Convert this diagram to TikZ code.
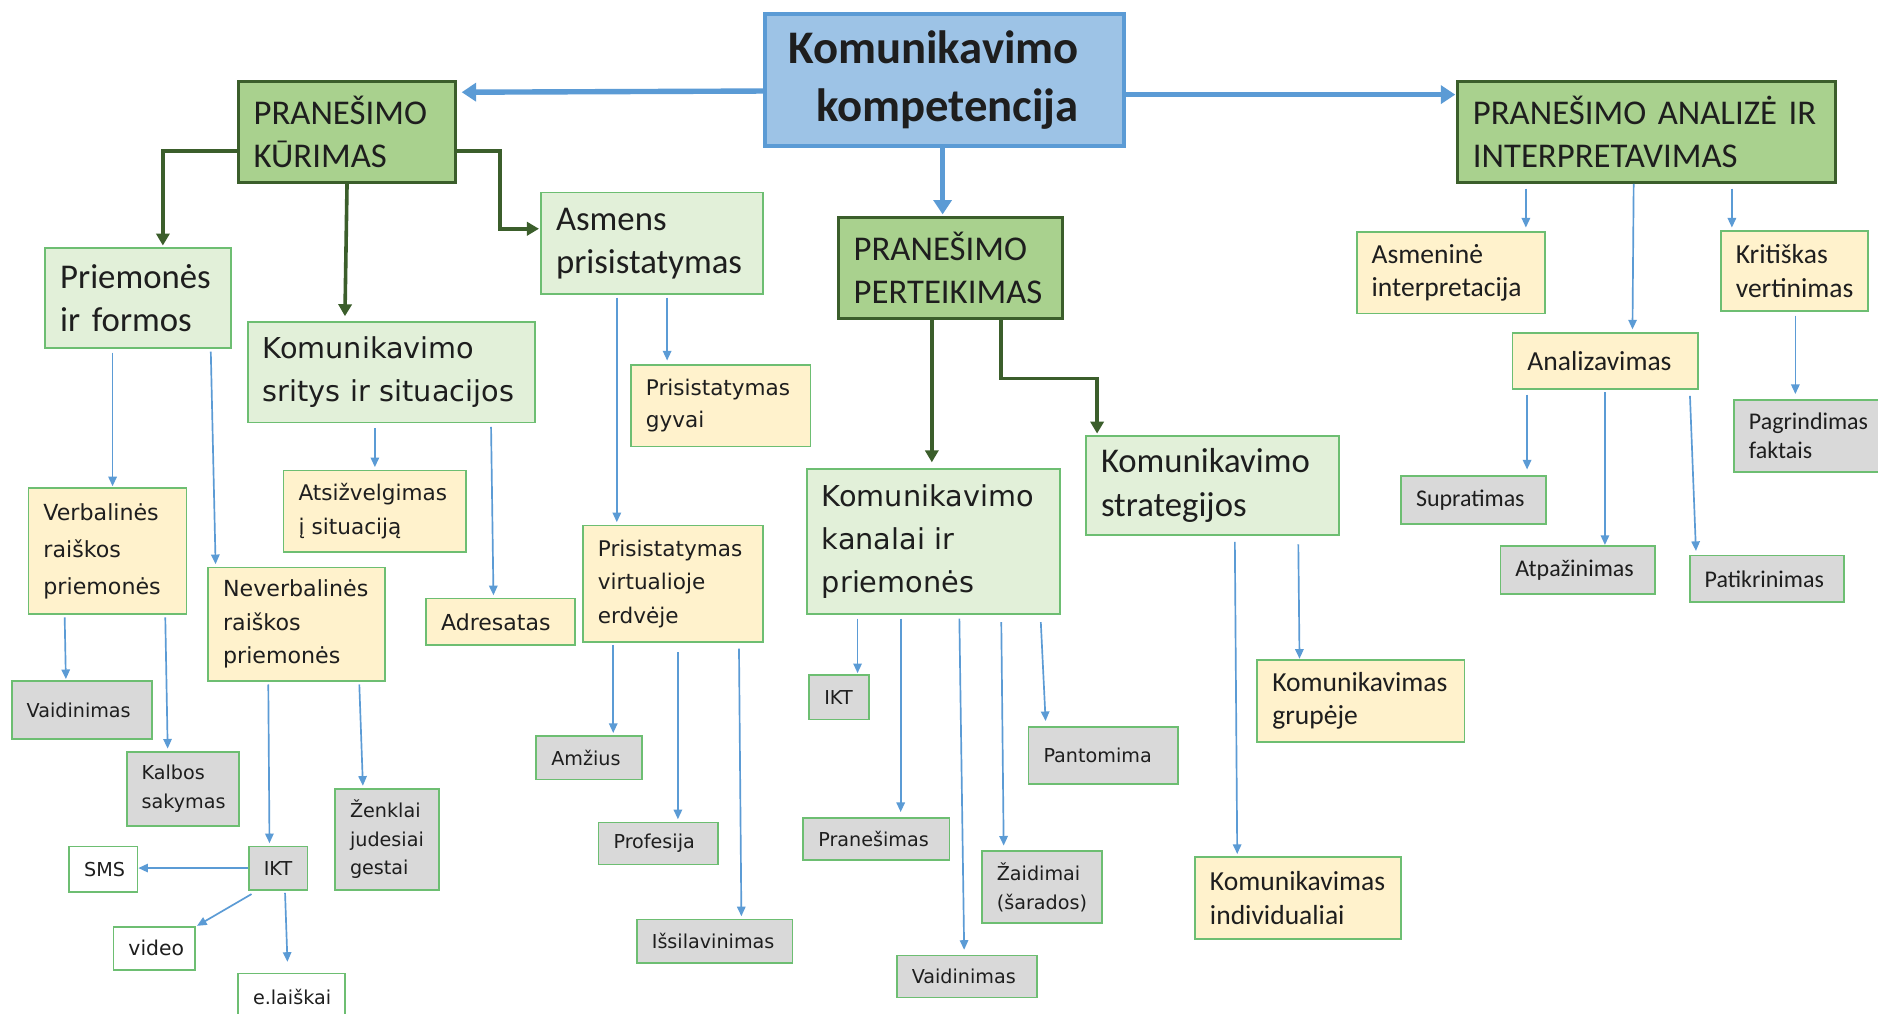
\documentclass[tikz,border=0pt]{standalone}
\usepackage{fontspec}
\setmainfont{Carlito}
\newfontfamily\vfont{DejaVu Sans}
\usetikzlibrary{arrows.meta,calc}
\definecolor{txt}{HTML}{1E1E1E}
\definecolor{dgfill}{HTML}{A9D18E}
\definecolor{dgline}{HTML}{3B5E2B}
\definecolor{cfill}{HTML}{9DC3E6}
\definecolor{cline}{HTML}{5B9BD5}
\definecolor{lgfill}{HTML}{E2F0D9}
\definecolor{yfill}{HTML}{FFF2CC}
\definecolor{gfill}{HTML}{D9D9D9}
\definecolor{bline}{HTML}{6DBE72}
\definecolor{arr}{HTML}{5B9BD5}
\newcommand{\cf}[2]{\fontsize{#1}{#2}\selectfont}
\newcommand{\vf}[2]{\vfont\fontsize{#1}{#2}\selectfont}
\newcommand{\mybox}[7]{%
  \pgfmathsetmacro{\myW}{#5-#3}%
  \pgfmathsetmacro{\myH}{#6-#4}%
  \pgfmathsetmacro{\myT}{#5-#3-25}%
  \node[#1, anchor=north west, minimum width=\myW pt, minimum height=\myH pt, text width=\myT pt] (#2) at (#3,#4) {#7};}
\tikzset{
  base/.style={inner xsep=12.5pt, inner ysep=0pt, align=left, text=txt},
  dgbox/.style={base, fill=dgfill, draw=dgline, line width=2.5pt, font=\cf{29}{36}},
  lgbox/.style={base, fill=lgfill, draw=bline, line width=1.5pt},
  ybox/.style={base, fill=yfill, draw=bline, line width=1.5pt},
  gbox/.style={base, fill=gfill, draw=bline, line width=1.5pt},
  wbox/.style={base, fill=white, draw=bline, line width=1.5pt},
  bigarr/.style={draw=arr, line width=4.5pt, -{Triangle[length=12pt,width=15pt]}},
  dgarr/.style={draw=dgline, line width=3pt, -{Triangle[length=10pt,width=11pt]}},
  tb/.style={draw=arr, line width=1.4pt, -{Triangle[length=8pt,width=7pt]}}
}
\begin{document}
\begin{tikzpicture}[x=1pt,y=-1pt]
\useasboundingbox[fill=white] (0,0) rectangle (1568,846);
% central
\node[fill=cfill, draw=cline, line width=3.5pt, anchor=north west, minimum width=300pt, minimum height=110pt, inner sep=0pt, text=txt, font=\bfseries\cf{39}{48}] (cen) at (637,10)
  {\parbox{250pt}{\raggedleft Komunikavimo\\kompetencija}\hspace*{26pt}};
% dark green
\mybox{dgbox}{kur}{198}{67}{379}{151}{PRANEŠIMO\\KŪRIMAS}
\mybox{dgbox}{ana}{1216}{67}{1531}{151}{PRANEŠIMO~ANALIZĖ~IR\\INTERPRETAVIMAS}
\mybox{dgbox}{per}{699}{180}{886}{265}{PRANEŠIMO\\PERTEIKIMAS}
% light green
\mybox{lgbox,font=\cf{29}{36}}{pri}{37}{206}{192}{290}{Priemonės\\ir~formos}
\mybox{lgbox,font=\cf{29}{36}}{asm}{451}{160}{636}{245}{Asmens\\prisistatymas}
\mybox{lgbox,font=\cf{29}{36}}{strat}{906}{363}{1117}{446}{Komunikavimo\\strategijos}
\mybox{lgbox,font=\vf{24}{36}}{srit}{206}{268}{446}{352}{Komunikavimo\\sritys~ir~situacijos}
\mybox{lgbox,font=\vf{24}{36}}{kan}{673}{391}{884}{512}{Komunikavimo\\kanalai~ir\\priemonės}
% yellow
\mybox{ybox,font=\vf{18.5}{31}}{verb}{23}{407}{155}{512}{Verbalinės\\raiškos\\priemonės}
\mybox{ybox,font=\vf{18.5}{28}}{never}{173}{473}{321}{568}{Neverbalinės\\raiškos\\priemonės}
\mybox{ybox,font=\vf{18}{28}}{atsi}{236}{392}{388}{460}{Atsižvelgimas\\į~situaciją}
\mybox{ybox,font=\vf{18.4}{28}}{adr}{355}{499}{479}{538}{Adresatas}
\mybox{ybox,font=\vf{18}{27}}{gyv}{526}{304}{676}{372}{Prisistatymas\\gyvai}
\mybox{ybox,font=\vf{18}{28}}{virt}{486}{438}{636}{535}{Prisistatymas\\virtualioje\\erdvėje}
\mybox{ybox,font=\cf{23}{27}}{asmi}{1132}{193}{1289}{261}{Asmeninė\\interpretacija}
\mybox{ybox,font=\cf{23}{28}}{krit}{1436}{192}{1559}{259}{Kritiškas\\vertinimas}
\mybox{ybox,font=\cf{23}{28}}{anz}{1262}{277}{1417}{324}{Analizavimas}
\mybox{ybox,font=\cf{23}{28}}{grp}{1049}{550}{1222}{619}{Komunikavimas\\grupėje}
\mybox{ybox,font=\cf{23}{28}}{ind}{997}{715}{1169}{783}{Komunikavimas\\individualiai}
% grey
\mybox{gbox,font=\vf{16}{24}}{vaida}{9}{568}{126}{616}{Vaidinimas}
\mybox{gbox,font=\vf{16}{24}}{kalb}{105}{627}{199}{689}{Kalbos\\sakymas}
\mybox{gbox,font=\vf{16}{24}}{zenk}{279}{658}{366}{742}{Ženklai\\judesiai\\gestai}
\mybox{gbox,font=\vf{16}{24}}{ikta}{207}{706}{256}{742}{IKT}
\mybox{gbox,font=\vf{16}{24}}{amz}{447}{614}{535}{650}{Amžius}
\mybox{gbox,font=\vf{16}{24}}{prof}{499}{686}{599}{721}{Profesija}
\mybox{gbox,font=\vf{16}{24}}{issi}{531}{767}{661}{803}{Išsilavinimas}
\mybox{gbox,font=\vf{16}{24}}{iktb}{675}{563}{725}{600}{IKT}
\mybox{gbox,font=\vf{16}{24}}{pran}{670}{682}{792}{717}{Pranešimas}
\mybox{gbox,font=\vf{16}{24}}{vaidb}{748}{797}{865}{832}{Vaidinimas}
\mybox{gbox,font=\vf{16}{24}}{zaid}{819}{710}{919}{770}{Žaidimai\\(šarados)}
\mybox{gbox,font=\vf{16}{24}}{pant}{858}{606}{983}{654}{Pantomima}
\mybox{gbox,font=\cf{20}{24}}{pagr}{1447}{333}{1574}{393}{Pagrindimas\\faktais}
\mybox{gbox,font=\cf{20}{24}}{supr}{1169}{397}{1290}{437}{Supratimas}
\mybox{gbox,font=\cf{20}{24}}{atpa}{1252}{455}{1381}{495}{Atpažinimas}
\mybox{gbox,font=\cf{20}{24}}{patik}{1410}{463}{1539}{502}{Patikrinimas}
% white
\mybox{wbox,font=\vf{16}{24}}{sms}{57}{706}{114}{744}{SMS}
\mybox{wbox,font=\vf{17}{24}}{vid}{94}{773}{162}{809}{video}
\mybox{wbox,font=\vf{16}{24}}{elai}{198}{812}{287}{852}{e.laiškai}
% big blue arrows
\draw[bigarr] ($(cen.north west)+(0,66)$) -- ($(kur.north east)+(4,10)$);
\draw[bigarr] ($(cen.north east)+(0,69)$) -- ($(ana.north west)+(-1,12)$);
\draw[bigarr] (cen.south -| 787,0) -- ($(per.north west)+(88,-1)$);
% dark green connectors
\draw[dgarr] ($(kur.north west)+(0,59)$) -| ($(pri.north west)+(99,-1)$);
\draw[dgarr] (kur.south) -- ($(srit.north west)+(82,-4)$);
\draw[dgarr] ($(kur.north east)+(0,59)$) -- ($(kur.north east)+(36,59)$) |- ($(asm.north west)+(-1,31)$);
\draw[dgarr] ($(per.south west)+(79,0)$) -- ($(kan.north west)+(105,-5)$);
\draw[dgarr] ($(per.south west)+(137,0)$) |- ($(strat.north west)+(10,-47)$) -- ($(strat.north west)+(10,-1)$);
% thin blue connectors
\draw[tb] ($(pri.south west)+(57,3)$) -- ($(verb.north west)+(71,-1)$);
\draw[tb] ($(pri.south west)+(139,2)$) -- ($(never.north west)+(7,-2)$);
\draw[tb] ($(verb.south west)+(31,2)$) -- ($(vaida.north west)+(46,-1)$);
\draw[tb] ($(verb.south west)+(115,2)$) -- ($(kalb.north west)+(35,-2)$);
\draw[tb] ($(never.south west)+(51,2)$) -- ($(ikta.north west)+(18,-2)$);
\draw[tb] ($(never.south west)+(127,2)$) -- ($(zenk.north west)+(24,-2)$);
\draw[tb] (ikta.west) -- (ikta.west -| sms.east);
\draw[tb] ($(ikta.south west)+(3,3)$) -- ($(vid.north east)+(1,0)$);
\draw[tb] ($(ikta.south west)+(31,2)$) -- ($(elai.north west)+(42,-9)$);
\draw[tb] ($(srit.south west)+(107,4)$) -- ($(atsi.north west)+(77,-2)$);
\draw[tb] ($(srit.south west)+(204,3)$) -- ($(adr.north west)+(57,-2)$);
\draw[tb] ($(asm.south west)+(106,2)$) -- ($(gyv.north west)+(31,-3)$);
\draw[tb] ($(asm.south west)+(64,2)$) -- ($(virt.north west)+(29,-2)$);
\draw[tb] ($(virt.south west)+(26,2)$) -- ($(amz.north west)+(65,-2)$);
\draw[tb] ($(virt.south west)+(80,8)$) -- ($(prof.north west)+(67,-2)$);
\draw[tb] ($(virt.south west)+(131,5)$) -- ($(issi.north west)+(88,-2)$);
\draw[tb] ($(kan.south west)+(43,3)$) -- ($(iktb.north west)+(41,-1)$);
\draw[tb] ($(kan.south west)+(79,3)$) -- ($(pran.north west)+(82,-4)$);
\draw[tb] ($(kan.south west)+(128,3)$) -- ($(vaidb.north west)+(57,-4)$);
\draw[tb] ($(kan.south west)+(163,6)$) -- ($(zaid.north west)+(19,-4)$);
\draw[tb] ($(kan.south west)+(196,6)$) -- ($(pant.north west)+(15,-4)$);
\draw[tb] ($(strat.south west)+(178,7)$) -- ($(grp.north west)+(36,0)$);
\draw[tb] ($(strat.south west)+(125,5)$) -- ($(ind.north west)+(36,-2)$);
\draw[tb] ($(ana.south west)+(58,4)$) -- ($(asmi.north west)+(142,-3)$);
\draw[tb] ($(ana.south west)+(148,0)$) -- ($(anz.north west)+(101,-2)$);
\draw[tb] ($(ana.south west)+(230,4)$) -- ($(krit.north west)+(10,-2)$);
\draw[tb] ($(krit.south west)+(63,3)$) -- ($(pagr.north west)+(52,-4)$);
\draw[tb] ($(anz.south west)+(13,4)$) -- ($(supr.north west)+(106,-5)$);
\draw[tb] ($(anz.south west)+(78,2)$) -- ($(atpa.north west)+(88,0)$);
\draw[tb] ($(anz.south west)+(149,5)$) -- ($(patik.north west)+(6,-3)$);
\end{tikzpicture}
\end{document}
